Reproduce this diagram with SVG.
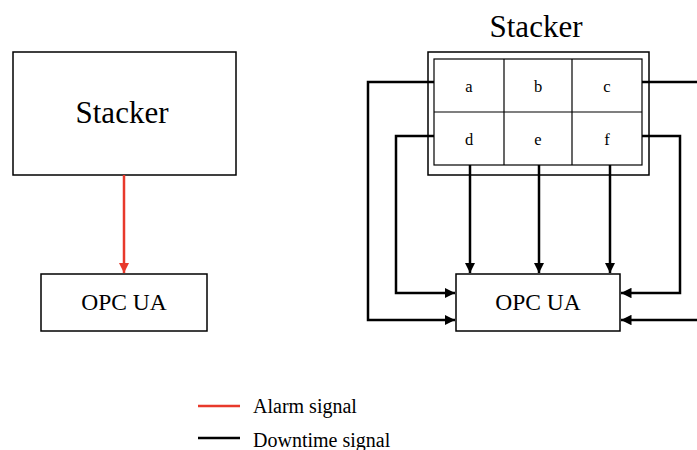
<svg xmlns="http://www.w3.org/2000/svg" width="697" height="450" viewBox="0 0 697 450">
<style>
text{font-family:"Liberation Serif","Times New Roman",serif;fill:#000;text-anchor:middle}
.box{fill:#fff;stroke:#000;stroke-width:1.5}
.thin{fill:none;stroke:#000;stroke-width:1.2}
.dt{fill:none;stroke:#000;stroke-width:2.5}
.al{fill:none;stroke:#e8392b;stroke-width:2.5}
.cell{font-size:16.5px}
</style>
<defs>
<marker id="ab" viewBox="0 0 10 10" refX="10" refY="5" markerWidth="4.2" markerHeight="4.2" orient="auto" markerUnits="strokeWidth"><path d="M0,0 L10,5 L0,10 z" fill="#000"/></marker>
<marker id="ar" viewBox="0 0 10 10" refX="10" refY="5" markerWidth="4.2" markerHeight="4.2" orient="auto" markerUnits="strokeWidth"><path d="M0,0 L10,5 L0,10 z" fill="#e8392b"/></marker>
</defs>
<g id="stacker-left">
<rect class="box" x="13" y="52" width="223" height="123"/>
<text x="122" y="123" font-size="31">Stacker</text>
</g>
<g id="opc-left">
<rect class="box" x="41" y="274" width="166" height="57"/>
<text x="124" y="310" font-size="23.5">OPC UA</text>
</g>
<g id="stacker-right">
<text x="536" y="37" font-size="31">Stacker</text>
<rect class="box" x="428" y="52" width="221" height="123" stroke-width="2"/>
<rect class="thin" x="434" y="59" width="208" height="106"/>
<line class="thin" x1="434" y1="112" x2="642" y2="112" stroke-width="1.5"/>
<line class="thin" x1="504" y1="59" x2="504" y2="165" stroke-width="2"/>
<line class="thin" x1="572" y1="59" x2="572" y2="165"/>
<g id="cell-a"><text class="cell" x="469" y="92">a</text></g>
<g id="cell-b"><text class="cell" x="538" y="92">b</text></g>
<g id="cell-c"><text class="cell" x="607" y="92">c</text></g>
<g id="cell-d"><text class="cell" x="469" y="145">d</text></g>
<g id="cell-e"><text class="cell" x="538" y="145">e</text></g>
<g id="cell-f"><text class="cell" x="607" y="145">f</text></g>
</g>
<g id="opc-right">
<rect class="box" x="456" y="274" width="164" height="57"/>
<text x="538" y="310" font-size="23.5">OPC UA</text>
</g>
<g id="connectors">
<line class="al" x1="124" y1="175" x2="124" y2="273" marker-end="url(#ar)"/>
<polyline class="dt" points="434,82 368,82 368,320 455,320" marker-end="url(#ab)"/>
<polyline class="dt" points="434,136 396,136 396,293 455,293" marker-end="url(#ab)"/>
<polyline class="dt" points="697,320 621,320" marker-end="url(#ab)"/>
<polyline class="dt" points="642,82 697,82"/>
<polyline class="dt" points="642,136 680,136 680,293 621,293" marker-end="url(#ab)"/>
<line class="dt" x1="470" y1="165" x2="470" y2="273" marker-end="url(#ab)"/>
<line class="dt" x1="539" y1="165" x2="539" y2="273" marker-end="url(#ab)"/>
<line class="dt" x1="610" y1="165" x2="610" y2="273" marker-end="url(#ab)"/>
</g>
<g id="legend">
<line class="al" x1="198" y1="406" x2="240" y2="406"/>
<text x="253" y="413" font-size="20" style="text-anchor:start">Alarm signal</text>
<line class="dt" x1="198" y1="438" x2="240" y2="438"/>
<text x="253" y="447" font-size="20" style="text-anchor:start">Downtime signal</text>
</g>
</svg>
